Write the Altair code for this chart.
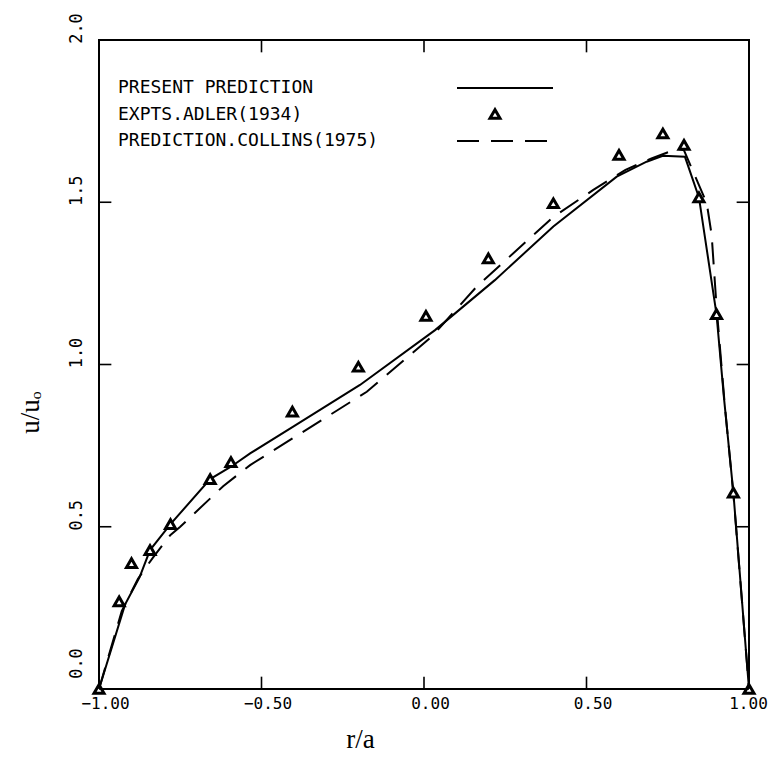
import altair as alt
import pandas as pd

# Experimental points, Adler (1934)
expt_x = [-1.00, -0.938, -0.90, -0.843, -0.78, -0.658, -0.594, -0.405, -0.202, 0.006,
          0.198, 0.398, 0.60, 0.735, 0.80, 0.846, 0.90, 0.952, 1.00]
expt_y = [0.0, 0.27, 0.388, 0.428, 0.508, 0.647, 0.699, 0.855, 0.993, 1.150,
          1.327, 1.497, 1.646, 1.712, 1.677, 1.515, 1.155, 0.605, 0.0]

# Present prediction (solid)
pres_x = [-1.00, -0.92, -0.875, -0.843, -0.78, -0.658, -0.594, -0.535, -0.40, -0.197,
          0.034, 0.218, 0.398, 0.593, 0.685, 0.735, 0.803, 0.846, 0.90, 0.923, 0.952, 1.00]
pres_y = [0.0, 0.26, 0.345, 0.428, 0.508, 0.647, 0.685, 0.726, 0.81, 0.937,
          1.106, 1.26, 1.425, 1.579, 1.625, 1.643, 1.640, 1.515, 1.155, 0.897, 0.604, 0.0]

# Prediction, Collins (1975) (dashed)
coll_x = [-1.00, -0.93, -0.88, -0.834, -0.78, -0.75, -0.618, -0.535, -0.40, -0.176,
          0.024, 0.162, 0.398, 0.521, 0.62, 0.70, 0.78, 0.80, 0.87, 0.885, 0.90, 0.925, 0.952, 1.00]
coll_y = [0.0, 0.24, 0.34, 0.405, 0.475, 0.50, 0.625, 0.69, 0.775, 0.916,
          1.086, 1.24, 1.455, 1.538, 1.60, 1.635, 1.665, 1.66, 1.497, 1.40, 1.18, 0.88, 0.60, 0.0]

x_ticks = [-1.0, -0.5, 0.0, 0.5, 1.0]
y_ticks = [0.0, 0.5, 1.0, 1.5, 2.0]

legend_labels = ["PRESENT PREDICTION", "EXPTS.ADLER(1934)", "PREDICTION.COLLINS(1975)"]

expt = pd.DataFrame({"x": expt_x, "y": expt_y})
pres = pd.DataFrame({"x": pres_x, "y": pres_y})
coll = pd.DataFrame({"x": coll_x, "y": coll_y})
xt = pd.DataFrame({"v": x_ticks})
yt = pd.DataFrame({"v": y_ticks})
leg = pd.DataFrame({"label": legend_labels, "row": [0, 1, 2]})

xscale = alt.Scale(domain=[-1, 1], nice=False, zero=False)
yscale = alt.Scale(domain=[0, 2], nice=False, zero=False)

xaxis = alt.Axis(values=x_ticks, format=".2f", ticks=False, domain=False, grid=False,
                 labelFlush=False,
                 labelFont="DejaVu Sans Mono", labelFontSize=16, labelPadding=6,
                 labelOffset={"condition": {"test": "datum.value === 1", "value": -1}, "value": 6},
                 labelColor="black",
                 title="r/a", titleFont="Liberation Serif", titleFontSize=27,
                 titleFontWeight="normal", titleColor="black",
                 titleX=261, titleY=58, titleBaseline="alphabetic", titleAlign="center")
yaxis = alt.Axis(values=y_ticks, format=".1f", ticks=False, domain=False, grid=False,
                 labelFlush=False,
                 labelFont="DejaVu Sans Mono", labelFontSize=17, labelPadding=14,
                 labelAngle=-90, labelAlign="center", labelBaseline="bottom",
                 labelOffset={"condition": {"test": "datum.value === 0", "value": -26}, "value": -12},
                 labelColor="black",
                 title="u/uₒ", titleFont="Liberation Serif", titleFontSize=27,
                 titleFontWeight="normal", titleColor="black", titleAngle=-90,
                 titleX=-69, titleY=372, titleBaseline="middle", titleAlign="center")

X = alt.X("x:Q", scale=xscale, axis=xaxis)
Y = alt.Y("y:Q", scale=yscale, axis=yaxis)

base_pres = alt.Chart(pres).mark_line(color="black", strokeWidth=2, clip=False).encode(
    x=X, y=Y, order="x:Q",
)
line_coll = alt.Chart(coll).mark_line(color="black", strokeWidth=2, strokeDash=[22, 12], clip=False).encode(
    x=X, y=Y, order="x:Q"
)
pts = alt.Chart(expt).mark_point(shape="triangle-up", size=100, filled=False, color="black",
                                 strokeWidth=3, fill="white", fillOpacity=1, opacity=1, clip=False).encode(
    x=X, y=Y
)

tick_len = 0.038
bottom_ticks = alt.Chart(xt).mark_rule(color="black", strokeWidth=1.6).transform_calculate(
    y0="0", y1=str(tick_len)).encode(
    x=alt.X("v:Q", scale=xscale, axis=xaxis), y=alt.Y("y0:Q", scale=yscale, axis=yaxis), y2="y1:Q")
top_ticks = alt.Chart(xt).mark_rule(color="black", strokeWidth=1.6).transform_calculate(
    y0="2", y1=str(2 - tick_len)).encode(
    x=alt.X("v:Q", scale=xscale, axis=xaxis), y=alt.Y("y0:Q", scale=yscale, axis=yaxis), y2="y1:Q")
left_ticks = alt.Chart(yt).mark_rule(color="black", strokeWidth=1.6).transform_calculate(
    x0="-1", x1=str(-1 + tick_len)).encode(
    y=alt.Y("v:Q", scale=yscale, axis=yaxis), x=alt.X("x0:Q", scale=xscale, axis=xaxis), x2="x1:Q")
right_ticks = alt.Chart(yt).mark_rule(color="black", strokeWidth=1.6).transform_calculate(
    x0="1", x1=str(1 - tick_len)).encode(
    y=alt.Y("v:Q", scale=yscale, axis=yaxis), x=alt.X("x0:Q", scale=xscale, axis=xaxis), x2="x1:Q")

leg_rows_y = [48, 75, 101]
leg_texts = [
    alt.Chart(leg).transform_filter(f"datum.row == {i}").mark_text(
        align="left", baseline="middle", font="DejaVu Sans Mono", fontSize=18, color="black"
    ).encode(x=alt.value(19), y=alt.value(leg_rows_y[i]), text="label:N")
    for i in range(3)
]
leg_solid = alt.Chart(leg).transform_filter("datum.row == 0").mark_rule(color="black", strokeWidth=2).encode(
    x=alt.value(358), x2=alt.value(454), y=alt.value(48))
leg_dash = alt.Chart(leg).transform_filter("datum.row == 2").mark_rule(
    color="black", strokeWidth=2, strokeDash=[22, 12]).encode(
    x=alt.value(358), x2=alt.value(454), y=alt.value(101))
leg_tri = alt.Chart(leg).transform_filter("datum.row == 1").mark_point(
    shape="triangle-up", size=100, filled=False, color="black", strokeWidth=3,
    fill="white", fillOpacity=1, opacity=1).encode(x=alt.value(396), y=alt.value(74))

chart = alt.layer(
    base_pres, line_coll, pts, bottom_ticks, top_ticks, left_ticks, right_ticks,
    *leg_texts, leg_solid, leg_dash, leg_tri
).properties(
    width=650, height=649,
    autosize=alt.AutoSizeParams(type="none"),
    padding={"left": 91, "top": 32, "right": 24, "bottom": 85},
    background="white",
).configure_view(stroke="black", strokeWidth=2)

chart.save("out.html", embed_options={"renderer": "svg", "actions": False})
